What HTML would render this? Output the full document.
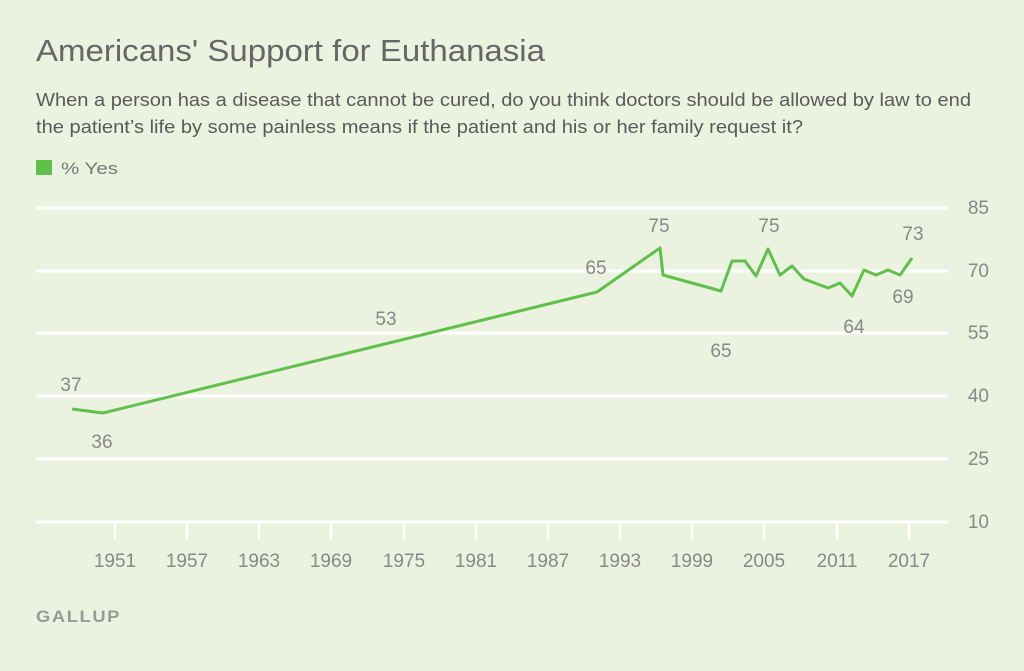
<!DOCTYPE html>
<html><head><meta charset="utf-8"><style>
body{margin:0;background:#ebf2df;width:1024px;height:666px;overflow:hidden;font-family:"Liberation Sans",sans-serif}
</style></head><body>
<svg width="1024" height="666" xmlns="http://www.w3.org/2000/svg" font-family="Liberation Sans, sans-serif">
<rect width="1024" height="666" fill="#ebf2df"/>
<text x="36" y="61" font-size="31" fill="#666" textLength="509" lengthAdjust="spacingAndGlyphs">Americans' Support for Euthanasia</text>
<text x="36" y="106" font-size="18" fill="#5a5a5a" textLength="935" lengthAdjust="spacingAndGlyphs">When a person has a disease that cannot be cured, do you think doctors should be allowed by law to end</text>
<text x="36" y="133" font-size="18" fill="#5a5a5a" textLength="767" lengthAdjust="spacingAndGlyphs">the patient’s life by some painless means if the patient and his or her family request it?</text>
<rect x="36" y="160" width="16" height="15" fill="#5fc14a"/>
<text x="61" y="174" font-size="17" fill="#777" textLength="57" lengthAdjust="spacingAndGlyphs">% Yes</text>
<g stroke="#fff" stroke-width="3">
<line x1="36" y1="208" x2="948" y2="208"/><line x1="36" y1="271" x2="948" y2="271"/>
<line x1="36" y1="333" x2="948" y2="333"/><line x1="36" y1="396" x2="948" y2="396"/>
<line x1="36" y1="459" x2="948" y2="459"/><line x1="36" y1="522" x2="948" y2="522"/>
</g>
<g font-size="19" fill="#888" text-anchor="end">
<text x="989" y="214">85</text><text x="989" y="277">70</text><text x="989" y="339">55</text>
<text x="989" y="402">40</text><text x="989" y="465">25</text><text x="989" y="528">10</text>
</g>
<g stroke="#fff" stroke-width="2.5">
<line x1="115" y1="522" x2="115" y2="540"/><line x1="187" y1="522" x2="187" y2="540"/><line x1="259" y1="522" x2="259" y2="540"/><line x1="331" y1="522" x2="331" y2="540"/><line x1="404" y1="522" x2="404" y2="540"/><line x1="476" y1="522" x2="476" y2="540"/><line x1="548" y1="522" x2="548" y2="540"/><line x1="620" y1="522" x2="620" y2="540"/><line x1="692" y1="522" x2="692" y2="540"/><line x1="764" y1="522" x2="764" y2="540"/><line x1="837" y1="522" x2="837" y2="540"/><line x1="909" y1="522" x2="909" y2="540"/>
</g>
<g font-size="19" fill="#888" text-anchor="middle">
<text x="115" y="567">1951</text><text x="187" y="567">1957</text><text x="259" y="567">1963</text><text x="331" y="567">1969</text><text x="404" y="567">1975</text><text x="476" y="567">1981</text><text x="548" y="567">1987</text><text x="620" y="567">1993</text><text x="692" y="567">1999</text><text x="764" y="567">2005</text><text x="837" y="567">2011</text><text x="909" y="567">2017</text>
</g>
<polyline fill="none" stroke="#5fc14a" stroke-width="3" stroke-linejoin="round" points="72,409 103,413 597,292 660,248 663,275 721,291 732,261 745,261 756,276 768,249 780,275 792,266 804,279 828,288 840,283 852,296 864,270 876,275 888,270 900,275 912,258"/>
<g font-size="19" fill="#888" text-anchor="middle">
<text x="71" y="391">37</text><text x="102" y="448">36</text><text x="386" y="325">53</text>
<text x="596" y="274">65</text><text x="659" y="232">75</text><text x="721" y="357">65</text>
<text x="769" y="232">75</text><text x="854" y="333">64</text><text x="903" y="303">69</text><text x="913" y="240">73</text>
</g>
<text x="36" y="622" font-size="17" font-weight="bold" fill="#999" letter-spacing="1.5" textLength="85" lengthAdjust="spacingAndGlyphs">GALLUP</text>
</svg>
</body></html>
